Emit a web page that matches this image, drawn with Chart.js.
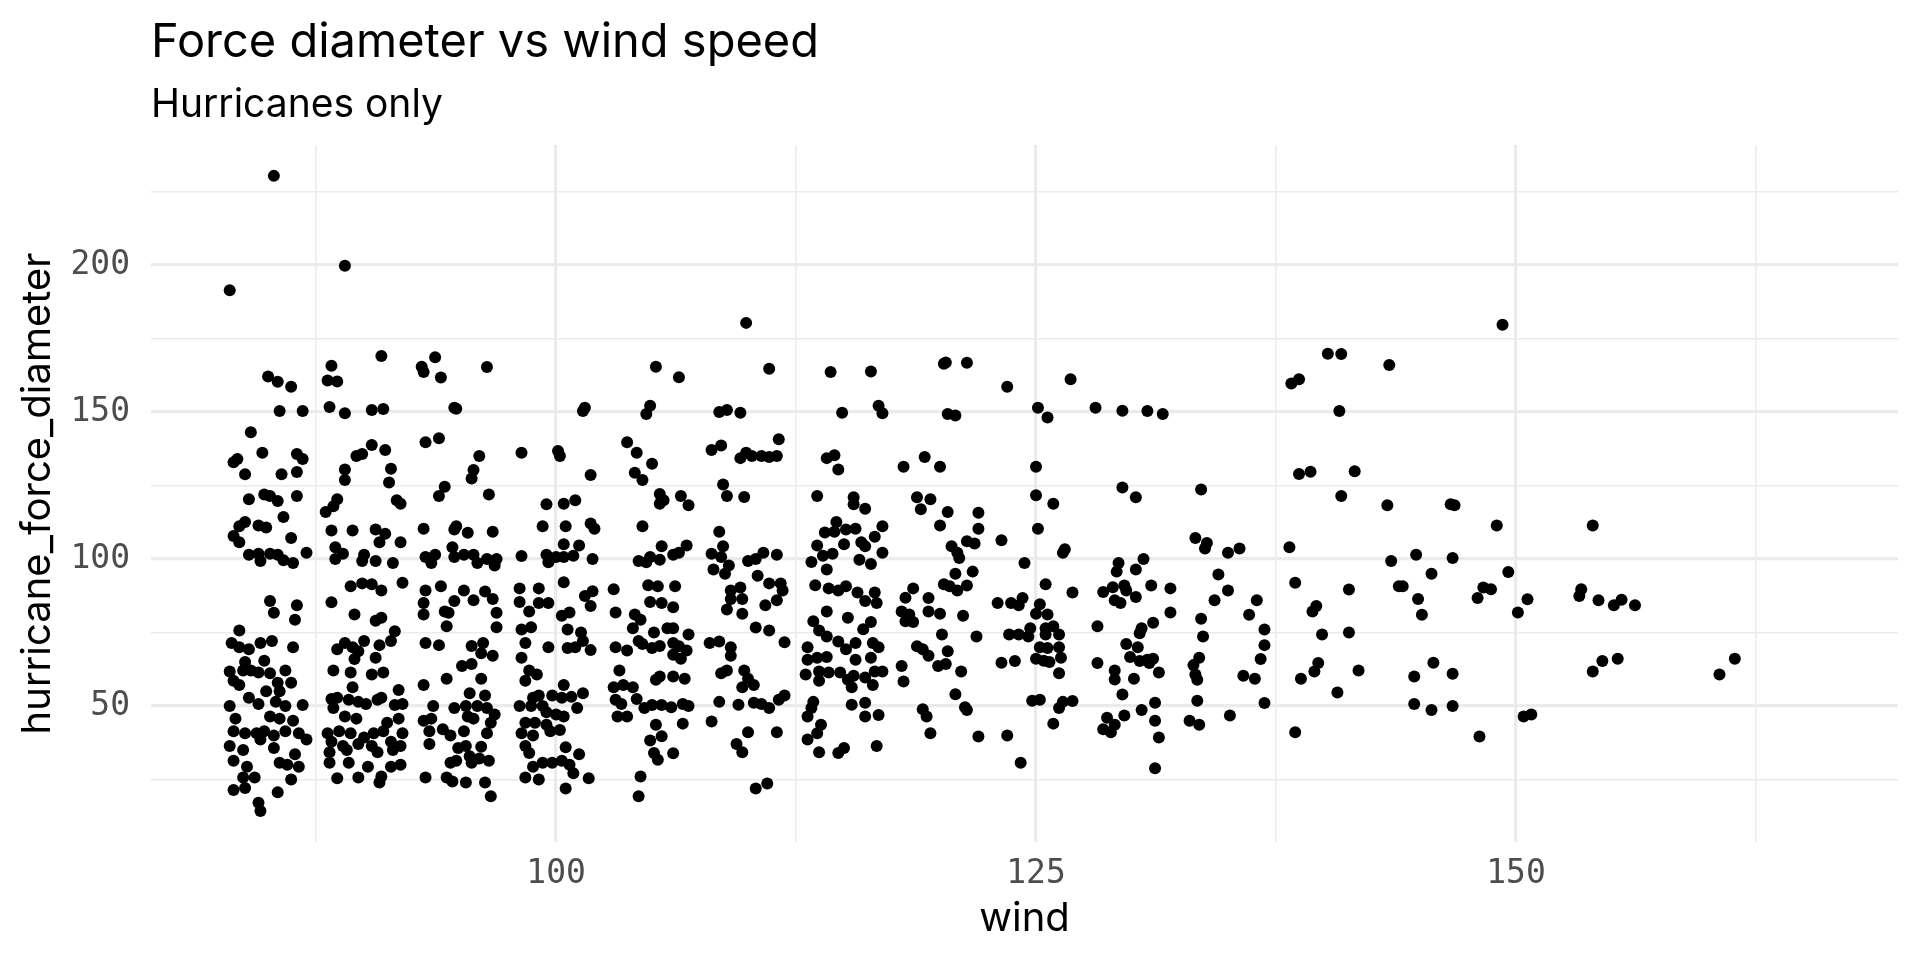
<!DOCTYPE html>
<html>
<head>
<meta charset="utf-8">
<title>Force diameter vs wind speed</title>
<script src="https://cdn.jsdelivr.net/npm/chart.js@4.4.1/dist/chart.umd.min.js"></script>
<style>
  html, body { margin: 0; padding: 0; background: #fff; }
  canvas { display: block; }
</style>
</head>
<body>
<canvas id="scatter" width="1920" height="960"></canvas>
<script>
// texts
const titleText = 'Force diameter vs wind speed';
const subtitleText = 'Hurricanes only';
const xTitle = 'wind';
const yTitle = 'hurricane_force_diameter';

// axis ticks (major labelled, minor unlabelled)
const xTickLabels = [100, 125, 150];
const yTickLabels = [50, 100, 150, 200];

// jittered points [wind, hurricane_force_diameter], grouped by wind band
const band85 = [[85.3,230.3],[83.0,191.4],[85.0,162.1],[85.5,160.3],[86.2,158.6],[85.6,150.3],[86.8,150.3],[84.1,143.1],[84.7,136.1],[83.4,134.0],[83.2,132.9],[86.5,135.7],[86.8,134.0],[83.8,128.8],[85.7,128.8],[86.5,129.6],[84.0,120.3],[84.8,121.9],[85.1,121.4],[85.5,119.7],[86.5,121.4],[85.8,114.3],[83.8,112.6],[83.5,111.1],[84.5,111.4],[84.9,110.7],[83.2,107.8],[83.5,105.7],[86.2,107.1],[84.0,101.4],[84.5,101.8],[84.6,99.3],[85.1,101.8],[85.5,101.4],[85.8,99.6],[86.3,98.6],[87.0,102.1],[85.1,85.7],[85.3,81.7],[86.5,84.3],[86.4,79.3],[83.5,75.7],[83.1,71.4],[83.5,70.0],[84.0,69.3],[84.6,71.4],[85.2,72.1],[86.3,70.0],[84.8,65.4],[83.8,65.0],[83.0,61.7],[83.7,62.1],[84.1,62.1],[84.5,61.4],[85.1,61.1],[85.9,62.1],[83.2,58.6],[83.5,57.1],[85.5,57.9],[86.2,57.9],[84.9,55.0],[85.6,55.0],[84.0,52.8],[84.5,50.7],[85.4,51.4],[85.9,50.0],[86.8,50.3],[83.0,50.0],[83.3,45.7],[85.1,46.4],[85.6,45.7],[86.3,45.0],[83.2,41.4],[83.8,40.7],[84.4,40.7],[84.8,41.4],[85.3,40.0],[85.9,41.4],[86.6,40.7],[87.0,38.6],[83.0,36.4],[83.7,35.0],[84.6,38.6],[85.3,35.7],[86.4,33.6],[83.2,31.4],[83.9,29.3],[85.6,30.7],[86.0,30.0],[86.6,29.3],[83.7,25.7],[84.3,25.7],[86.2,25.0],[83.2,21.4],[83.8,22.1],[85.5,20.7],[84.5,17.1],[84.6,14.3]];

const band90 = [[89.0,199.7],[90.9,169.0],[88.3,165.7],[88.1,160.7],[88.6,160.4],[88.2,151.7],[89.0,149.6],[90.4,150.7],[91.0,151.0],[90.4,138.8],[89.6,135.0],[89.9,135.7],[91.1,137.1],[89.0,130.4],[89.0,126.9],[91.4,130.7],[91.3,126.0],[88.6,120.3],[88.4,117.9],[88.0,116.0],[91.7,120.0],[91.9,118.8],[88.3,109.7],[89.4,109.7],[90.6,110.0],[91.1,108.6],[90.8,105.7],[91.9,105.7],[88.5,104.0],[88.9,101.8],[88.5,100.0],[90.0,101.4],[89.9,99.3],[90.6,99.3],[91.5,98.6],[89.3,90.7],[89.9,91.7],[90.4,91.4],[90.9,89.3],[92.0,91.9],[88.3,85.3],[89.5,81.1],[90.6,79.0],[90.9,80.0],[91.6,75.4],[91.4,72.1],[89.0,71.4],[90.0,72.1],[88.6,69.3],[89.4,70.0],[89.7,68.6],[90.8,70.7],[89.5,66.0],[90.6,66.4],[88.4,62.1],[89.3,61.4],[90.4,60.7],[91.0,61.4],[89.4,56.4],[91.8,55.4],[88.3,52.4],[88.6,52.8],[89.2,52.1],[89.7,51.4],[90.1,50.7],[90.7,52.1],[90.9,52.8],[91.6,50.3],[92.0,50.7],[88.4,49.3],[89.0,46.4],[89.6,45.7],[91.8,45.7],[91.2,44.3],[88.1,40.7],[88.7,41.4],[89.3,40.7],[90.0,39.3],[90.5,40.7],[91.0,41.4],[92.0,40.7],[88.3,37.8],[88.9,36.4],[89.7,37.1],[90.4,36.4],[91.4,37.8],[91.9,36.4],[88.2,34.3],[89.1,35.0],[90.7,34.3],[91.5,35.0],[88.2,30.7],[89.2,30.7],[90.2,29.3],[91.4,29.3],[91.9,30.0],[88.6,25.4],[89.7,25.7],[90.9,26.0],[90.8,24.0]];

const band95 = [[93.7,168.6],[93.0,165.4],[93.1,163.6],[94.0,161.7],[96.4,165.3],[94.7,151.4],[94.8,151.1],[93.2,139.7],[93.9,141.1],[96.0,135.0],[95.7,130.3],[95.6,127.4],[94.2,124.6],[93.9,121.4],[96.5,121.9],[93.1,110.3],[94.7,110.0],[94.8,111.1],[95.4,108.9],[96.7,109.3],[94.6,104.0],[93.2,100.7],[93.7,101.4],[93.5,98.6],[94.7,100.7],[95.2,101.4],[95.7,101.4],[95.9,98.6],[96.4,100.0],[96.9,100.0],[96.8,97.8],[93.2,89.3],[94.0,90.7],[95.2,89.3],[94.7,85.7],[95.7,86.0],[96.3,88.9],[96.7,86.4],[93.1,85.0],[93.1,81.1],[94.2,82.1],[94.4,81.7],[96.9,81.7],[94.3,77.1],[96.9,76.8],[93.2,71.4],[93.9,70.7],[95.6,70.4],[96.2,71.4],[96.7,67.1],[96.1,67.9],[95.6,64.3],[95.1,63.6],[96.1,59.3],[94.3,59.3],[93.1,57.1],[95.5,54.3],[96.3,53.6],[93.6,50.0],[94.7,49.3],[95.3,50.0],[95.9,50.0],[96.4,49.3],[96.8,47.1],[93.1,45.0],[93.5,45.7],[95.4,46.4],[95.7,45.7],[96.6,44.3],[93.4,41.4],[94.1,42.1],[95.2,41.4],[96.4,40.7],[93.4,37.1],[94.5,40.0],[94.9,35.7],[95.3,36.4],[96.1,36.1],[95.5,32.9],[96.0,32.1],[96.5,31.4],[94.5,30.7],[94.8,31.4],[95.6,30.7],[93.2,25.7],[94.3,25.7],[94.6,24.3],[95.3,24.0],[96.3,24.0],[96.6,19.3]];

const band100 = [[101.5,151.4],[101.4,150.3],[98.2,136.1],[100.1,136.7],[100.2,135.0],[101.8,128.6],[99.5,118.6],[100.4,118.8],[101.0,120.0],[99.3,111.1],[100.5,111.1],[101.8,112.1],[102.0,110.3],[100.4,105.0],[101.2,104.6],[98.2,101.0],[99.5,101.4],[99.6,98.9],[100.0,100.7],[100.4,100.7],[100.9,101.1],[101.9,100.0],[98.1,90.0],[99.1,90.0],[100.4,92.1],[101.9,89.0],[101.5,87.4],[98.1,85.4],[98.6,82.1],[99.1,85.0],[99.6,85.0],[100.3,80.7],[100.7,81.8],[101.8,84.0],[98.2,76.0],[98.7,76.8],[100.6,76.0],[101.3,75.0],[98.4,71.4],[99.6,70.0],[100.6,69.7],[101.0,70.0],[101.4,72.1],[101.8,69.0],[98.2,66.4],[98.6,62.1],[99.0,60.7],[98.4,58.6],[100.4,57.1],[101.4,54.3],[98.1,50.0],[98.8,52.8],[99.1,53.6],[98.7,50.0],[99.3,50.0],[99.8,53.6],[100.3,52.8],[100.8,53.1],[101.1,49.3],[99.5,47.9],[100.0,47.1],[100.4,46.4],[98.4,44.3],[98.9,44.3],[99.5,43.6],[99.7,41.4],[100.2,41.8],[98.2,40.7],[98.8,40.0],[98.4,36.4],[98.6,34.0],[100.5,36.0],[101.2,33.6],[98.8,29.3],[99.3,30.7],[99.8,30.7],[100.3,31.4],[100.7,30.0],[100.9,27.1],[98.4,25.7],[99.1,25.0],[101.7,25.4],[100.5,21.9]];

const band105 = [[105.2,165.4],[106.4,161.8],[104.9,152.1],[104.7,149.3],[103.7,139.7],[104.2,136.1],[105.0,132.4],[104.1,129.3],[104.5,126.9],[105.4,122.1],[105.4,118.8],[105.6,120.0],[106.5,121.4],[106.9,118.3],[104.5,111.1],[105.5,104.3],[106.8,104.6],[104.3,99.3],[104.7,98.9],[104.9,100.7],[105.4,99.7],[106.1,101.4],[106.4,102.1],[103.0,89.7],[104.8,91.1],[105.3,90.7],[106.2,90.7],[103.1,81.8],[104.9,85.4],[105.5,85.0],[106.1,83.6],[104.1,81.1],[104.4,79.3],[104.0,76.4],[105.1,75.0],[105.8,76.4],[106.1,76.4],[106.9,74.3],[103.1,70.0],[103.7,68.9],[104.3,72.1],[104.5,71.1],[105.0,69.7],[105.4,70.4],[106.1,71.4],[106.4,70.3],[106.1,67.4],[106.5,66.1],[106.8,68.9],[103.3,62.1],[105.2,58.9],[105.4,60.0],[106.1,60.0],[106.7,59.3],[103.0,56.4],[103.5,57.1],[104.0,56.4],[103.1,52.1],[103.4,50.7],[104.2,52.4],[104.6,49.3],[105.0,50.3],[105.5,50.3],[106.0,49.6],[106.6,50.7],[106.9,50.0],[103.2,46.4],[103.7,46.4],[105.2,43.6],[106.6,44.0],[104.9,38.3],[105.5,39.7],[105.1,34.0],[105.3,31.7],[106.1,33.9],[104.4,26.0],[104.3,19.3]];

const band110 = [[109.9,180.3],[111.1,164.7],[108.5,150.0],[108.9,150.7],[109.6,149.7],[108.1,137.1],[108.6,138.6],[109.9,136.1],[111.6,140.7],[111.5,135.0],[109.6,134.3],[110.2,135.0],[110.7,135.0],[111.1,134.7],[108.7,125.3],[108.9,121.4],[109.8,121.1],[108.5,109.3],[108.7,104.3],[108.1,101.8],[108.6,100.7],[110.4,100.0],[110.8,102.1],[111.5,101.4],[110.0,99.3],[108.2,96.4],[109.0,97.8],[108.8,95.0],[110.5,94.3],[111.1,91.7],[111.7,91.7],[111.8,89.3],[111.5,86.0],[109.1,89.3],[109.6,90.3],[109.1,86.4],[109.7,86.4],[108.9,82.8],[109.7,81.4],[110.9,84.3],[110.4,76.7],[111.1,75.7],[108.0,71.4],[108.5,71.9],[109.1,70.0],[109.1,67.1],[111.9,71.7],[108.6,61.1],[108.9,62.1],[109.8,62.1],[110.0,59.3],[109.7,56.4],[110.3,57.1],[108.5,51.4],[109.5,50.4],[110.3,51.1],[110.7,50.7],[111.1,49.3],[111.6,52.1],[111.9,53.6],[108.1,44.7],[110.0,41.1],[109.4,37.1],[109.7,34.3],[111.5,41.1],[110.4,21.9],[111.0,23.6]];

const band115 = [[114.3,163.6],[116.4,163.8],[114.9,149.7],[116.8,152.1],[117.0,149.6],[114.1,134.3],[114.5,135.3],[114.7,130.4],[113.6,121.4],[115.5,121.0],[115.5,118.6],[116.1,117.1],[114.6,112.6],[117.0,111.1],[114.0,109.0],[114.5,109.3],[115.1,110.0],[115.6,110.3],[116.6,107.6],[113.6,104.6],[115.0,105.0],[115.9,105.7],[116.1,104.3],[113.9,101.1],[114.4,101.8],[117.0,102.1],[113.3,99.0],[114.1,96.4],[115.8,99.7],[116.4,98.3],[113.5,91.1],[114.2,90.0],[114.7,89.3],[115.1,90.7],[115.7,88.6],[116.6,88.6],[116.1,85.7],[116.7,85.0],[114.1,82.1],[115.2,80.0],[116.4,78.6],[113.4,78.8],[113.7,75.7],[114.1,73.6],[116.0,76.1],[113.1,70.0],[114.7,71.9],[115.1,69.3],[115.6,71.4],[116.5,71.4],[116.8,70.0],[113.1,65.7],[113.6,66.4],[114.1,66.7],[115.6,65.7],[116.4,66.4],[113.0,60.7],[113.7,61.7],[114.2,61.4],[114.8,61.4],[115.2,58.9],[115.5,60.3],[116.1,59.7],[116.6,61.7],[117.0,61.7],[113.7,58.6],[115.4,56.4],[116.5,57.1],[113.4,51.4],[115.4,50.4],[116.1,51.1],[113.3,49.3],[113.1,46.4],[116.1,46.4],[116.8,46.9],[113.8,43.6],[113.1,38.6],[113.6,40.7],[113.7,34.3],[114.7,34.0],[115.0,35.7],[116.7,36.4]];

const band120 = [[120.2,166.4],[120.3,166.8],[121.4,166.7],[123.5,158.6],[126.8,161.1],[120.4,149.3],[120.8,148.8],[125.1,151.4],[125.6,148.1],[118.1,131.4],[119.2,134.7],[120.0,131.4],[125.0,131.4],[118.8,121.0],[119.0,116.9],[119.5,120.3],[120.4,116.0],[122.0,115.7],[125.0,121.7],[125.9,118.8],[120.0,111.4],[122.0,110.3],[125.1,110.3],[120.6,104.3],[121.4,106.0],[121.8,105.3],[120.9,102.1],[121.0,100.3],[123.2,106.4],[126.4,102.1],[126.5,103.3],[124.4,98.6],[120.8,95.0],[121.7,95.7],[125.5,91.4],[120.2,91.4],[120.5,90.7],[120.9,89.3],[121.4,91.0],[118.6,90.0],[118.2,86.8],[119.4,86.7],[118.0,82.1],[118.4,81.1],[118.6,78.6],[118.2,78.8],[119.4,82.1],[120.0,81.4],[121.2,80.7],[123.0,85.0],[123.7,85.0],[124.1,84.3],[124.3,86.7],[125.2,84.6],[125.0,81.4],[125.6,81.1],[126.9,88.6],[120.1,74.3],[121.9,73.6],[123.6,74.3],[124.1,74.3],[124.7,76.4],[124.6,73.6],[125.5,76.4],[125.5,74.3],[125.9,77.1],[126.2,74.3],[118.8,70.3],[119.1,69.3],[119.4,67.1],[120.4,68.6],[125.2,70.0],[125.6,69.7],[126.2,70.0],[119.9,63.6],[120.3,64.3],[118.0,63.6],[123.2,64.7],[123.9,65.3],[125.0,66.1],[125.4,65.4],[125.7,65.0],[126.3,66.4],[121.1,61.7],[126.2,61.1],[118.1,58.3],[120.8,54.0],[124.8,51.8],[125.2,52.1],[126.4,51.4],[126.9,51.7],[126.2,49.3],[121.3,49.6],[121.4,48.6],[119.1,48.9],[119.3,46.4],[125.9,44.0],[119.5,40.7],[122.0,39.6],[123.5,40.0],[124.2,30.7]];

const band130 = [[128.1,151.4],[129.5,150.4],[130.8,150.3],[131.6,149.3],[129.5,124.3],[130.2,121.0],[133.6,123.6],[133.3,107.1],[133.9,105.4],[133.8,103.6],[135.0,102.1],[135.6,103.6],[129.3,98.6],[130.6,100.0],[130.2,96.4],[129.2,95.7],[134.5,94.7],[128.5,88.8],[129.0,90.4],[129.6,91.0],[129.7,89.3],[130.2,87.1],[131.0,91.0],[132.0,90.0],[129.1,86.0],[129.4,85.0],[134.3,86.0],[135.0,89.3],[136.5,86.0],[132.0,81.8],[136.1,81.0],[128.2,77.1],[131.1,78.3],[133.6,79.7],[130.5,76.4],[130.4,74.7],[136.9,76.0],[129.7,71.1],[130.3,70.0],[133.7,73.6],[136.9,70.7],[129.9,66.7],[130.4,65.3],[130.8,65.7],[131.1,66.1],[130.9,64.6],[133.5,66.4],[136.7,66.0],[128.2,64.6],[129.1,62.1],[129.1,59.0],[130.1,59.3],[131.4,61.4],[133.2,63.9],[133.3,60.7],[133.4,58.9],[135.8,60.3],[136.4,59.3],[129.5,53.9],[131.2,51.1],[133.4,51.8],[136.9,51.0],[129.6,46.8],[130.5,48.6],[128.7,46.0],[128.5,42.1],[128.9,41.1],[129.1,43.6],[131.2,45.0],[133.0,45.0],[133.5,43.6],[131.4,39.3],[135.1,46.8],[131.2,28.8]];

const band140 = [[149.3,179.7],[140.2,169.8],[140.9,169.7],[143.4,166.0],[138.3,159.7],[138.7,161.1],[140.8,150.3],[138.7,128.9],[139.3,129.7],[141.6,129.8],[140.9,121.4],[143.3,118.3],[146.6,118.6],[146.8,118.3],[149.0,111.4],[154.0,111.4],[138.2,104.0],[143.5,99.3],[144.8,101.4],[146.7,100.3],[145.6,95.0],[149.6,95.6],[138.5,91.9],[141.3,89.6],[143.9,90.7],[144.1,90.7],[144.9,86.4],[148.3,90.3],[148.7,89.7],[148.0,86.7],[150.6,86.3],[150.1,81.8],[145.1,81.0],[139.6,84.0],[139.4,82.1],[153.4,89.7],[153.3,87.4],[154.3,86.0],[155.1,84.3],[155.5,86.1],[156.2,84.3],[139.9,74.3],[141.3,75.0],[139.7,64.6],[139.5,61.7],[138.8,59.3],[141.8,62.1],[140.7,54.6],[144.7,60.0],[145.7,64.7],[146.7,61.0],[144.7,50.7],[145.6,48.6],[146.7,50.0],[138.5,41.1],[148.1,39.6],[150.4,46.4],[150.8,47.1],[154.0,61.7],[154.5,65.3],[155.3,66.1],[160.6,60.7],[161.4,66.1]];

const allBands = [band85, band90, band95, band100, band105, band110, band115, band120, band130, band140];

// titles and axis names drawn around the panel
const chartText = {
  id: 'chartText',
  afterDraw(chart) {
    const {ctx, chartArea: area} = chart;
    ctx.save();
    ctx.fillStyle = '#000';
    ctx.textAlign = 'left';
    ctx.textBaseline = 'alphabetic';
    ctx.font = '47px Inter';
    ctx.fillText(titleText, 151, 57);
    ctx.font = '39px Inter';
    ctx.fillText(subtitleText, 151, 117);

    ctx.font = '40px Inter';
    ctx.textAlign = 'center';
    ctx.fillText(xTitle, (area.left + area.right) / 2, 931);

    ctx.translate(50, (area.top + area.bottom) / 2);
    ctx.rotate(-Math.PI / 2);
    ctx.fillText(yTitle, 0, 0);
    ctx.restore();
  }
};

const points = allBands.flat().map(p => ({x: p[0], y: p[1]}));

const tickFont = {family: 'DejaVu Sans Mono', size: 33};

new Chart(document.getElementById('scatter'), {
  type: 'scatter',
  data: {
    datasets: [{
      data: points,
      pointRadius: 6,
      pointHoverRadius: 6,
      pointBackgroundColor: '#000',
      pointBorderWidth: 0
    }]
  },
  options: {
    responsive: false,
    animation: false,
    devicePixelRatio: 1,
    events: [],
    layout: {padding: {left: 0, top: 145, right: 22, bottom: 0}},
    plugins: {legend: {display: false}, tooltip: {enabled: false}},
    scales: {
      x: {
        type: 'linear',
        min: 78.9,
        max: 169.9,
        afterFit(scale) { scale.height = 118; },
        border: {display: false},
        grid: {
          drawTicks: false,
          color: '#ebebeb',
          lineWidth: c => (xTickLabels.includes(c.tick.value) ? 3.2 : 1.6)
        },
        ticks: {
          stepSize: 12.5,
          includeBounds: false,
          autoSkip: false,
          maxRotation: 0,
          padding: 13,
          color: '#4d4d4d',
          font: tickFont,
          callback: v => (xTickLabels.includes(v) ? String(v) : '')
        }
      },
      y: {
        type: 'linear',
        min: 3.74,
        max: 240.8,
        afterFit(scale) { scale.width = 151; },
        border: {display: false},
        grid: {
          drawTicks: false,
          color: '#ebebeb',
          lineWidth: c => (yTickLabels.includes(c.tick.value) ? 3.2 : 1.6)
        },
        ticks: {
          stepSize: 25,
          includeBounds: false,
          autoSkip: false,
          padding: 21,
          color: '#4d4d4d',
          font: tickFont,
          callback: v => (yTickLabels.includes(v) ? String(v) : '')
        }
      }
    }
  },
  plugins: [chartText]
});
</script>
</body>
</html>
